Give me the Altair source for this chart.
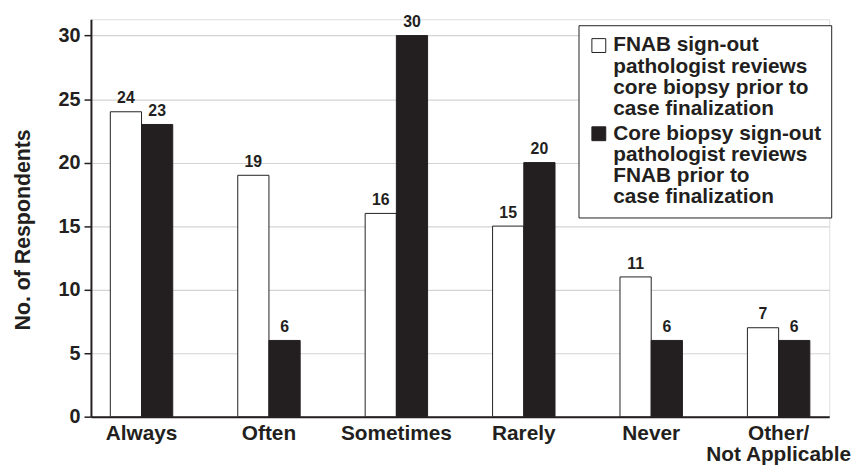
import altair as alt
import pandas as pd

categories = ["Always", "Often", "Sometimes", "Rarely", "Never", "Other/Not Applicable"]
series_names = [
    "FNAB sign-out pathologist reviews core biopsy prior to case finalization",
    "Core biopsy sign-out pathologist reviews FNAB prior to case finalization",
]
fnab_values = [24, 19, 16, 15, 11, 7]
core_values = [23, 6, 30, 20, 6, 6]
y_ticks = [0, 5, 10, 15, 20, 25, 30]

rows = []
for c, a, b in zip(categories, fnab_values, core_values):
    rows.append({"category": c, "series": series_names[0], "value": a})
    rows.append({"category": c, "series": series_names[1], "value": b})
df = pd.DataFrame(rows)

DARK = "#231f20"
FONT = "Liberation Sans"

legend_label_expr = (
    "datum.label == '" + series_names[0] + "' ? "
    "['FNAB sign-out', 'pathologist reviews', 'core biopsy prior to', 'case finalization'] : "
    "['Core biopsy sign-out', 'pathologist reviews', 'FNAB prior to', 'case finalization']"
)

x_enc = alt.X(
    "category:N",
    sort=categories,
    scale=alt.Scale(paddingInner=0.51, paddingOuter=0.152),
    axis=alt.Axis(
        title=None,
        labelAngle=0,
        labelFont=FONT,
        labelFontSize=21,
        labelFontWeight="bold",
        labelColor=DARK,
        labelPadding=6,
        labelLineHeight=21,
        labelExpr="datum.value == 'Other/Not Applicable' ? ['Other/', 'Not Applicable'] : datum.label",
        ticks=False,
        domainColor=DARK,
        domainWidth=2,
        grid=False,
    ),
)
xoff_enc = alt.XOffset(
    "series:N",
    sort=series_names,
    scale=alt.Scale(paddingInner=0, paddingOuter=0),
)
y_enc = alt.Y(
    "value:Q",
    scale=alt.Scale(domain=[0, 31.28], nice=False, zero=True),
    axis=alt.Axis(
        title="No. of Respondents",
        titleFont=FONT,
        titleFontSize=21.5,
        titleFontWeight="bold",
        titleColor=DARK,
        titleX=-68,
        titleY=212,
        titleAngle=-90,
        titleAlign="center",
        titleBaseline="middle",
        values=y_ticks,
        labelFont=FONT,
        labelFontSize=20,
        labelFontWeight="bold",
        labelColor=DARK,
        labelPadding=4,
        tickColor=DARK,
        tickSize=7,
        tickWidth=1.5,
        domainColor=DARK,
        domainWidth=2,
        grid=True,
        gridColor="#d4d4d4",
        gridWidth=1.2,
    ),
)

bars = alt.Chart(df).mark_bar(stroke=DARK, strokeWidth=1).encode(
    x=x_enc,
    xOffset=xoff_enc,
    y=y_enc,
    fill=alt.Fill(
        "series:N",
        sort=series_names,
        scale=alt.Scale(domain=series_names, range=["#ffffff", DARK]),
        legend=alt.Legend(
            title=None,
            orient="none",
            legendX=492,
            legendY=6,
            direction="vertical",
            symbolType="square",
            symbolSize=196,
            symbolStrokeColor=DARK,
            symbolStrokeWidth=1,
            labelFont=FONT,
            labelFontSize=21,
            labelFontWeight="bold",
            labelColor=DARK,
            labelExpr=legend_label_expr,
            labelLimit=400,
            labelOffset=4,
            rowPadding=3,
            padding=10,
            strokeColor=DARK,
            fillColor="#ffffff",
        ),
    ),
)

labels = alt.Chart(df).mark_text(
    dy=-8.5, font=FONT, fontSize=16, fontWeight="bold", color=DARK, baseline="alphabetic"
).encode(
    x=alt.X("category:N", sort=categories),
    xOffset=alt.XOffset("series:N", sort=series_names),
    y=alt.Y("value:Q"),
    text=alt.Text("value:Q"),
)

chart = (
    alt.layer(bars, labels)
    .properties(
        width=745,
        height=401,
        autosize=alt.AutoSizeParams(type="none"),
        padding={"left": 83.7, "top": 9.3, "right": 25, "bottom": 50},
    )
    .configure_view(stroke=None)
    .configure(background="#ffffff", style={"guide-label": {"lineHeight": 21.3}})
)

chart.save("out.html", embed_options={"renderer": "svg", "actions": False})
